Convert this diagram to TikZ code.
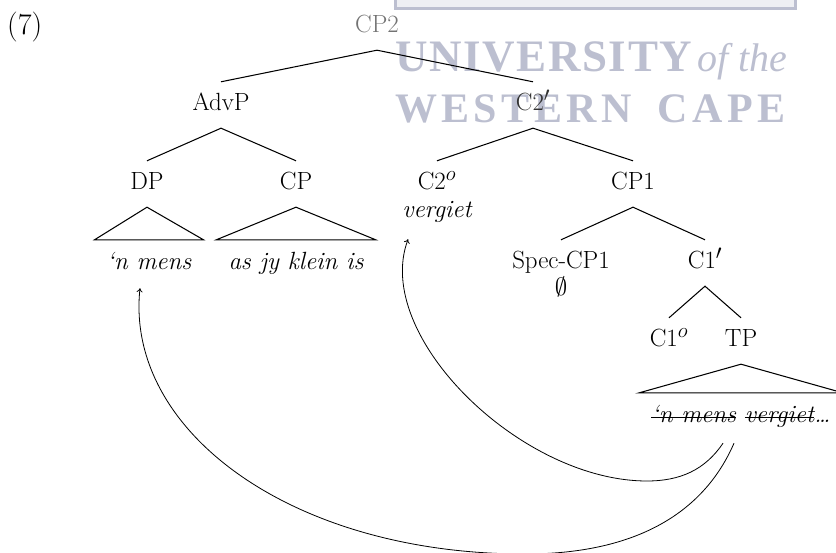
\documentclass[tikz,border=0pt]{standalone}
\usepackage{fontspec}
\usetikzlibrary{calc,arrows.meta}
\newfontfamily\crestfont{Liberation Serif}
\definecolor{crest}{RGB}{188,191,208}
% a word with a horizontal rule through it
\newcommand\struckword[1]{\setbox0=\hbox{#1}\rlap{\rule[0.5ex]{\wd0}{1pt}}\box0\relax}
\begin{document}
\begin{tikzpicture}[x=1pt,y=-1pt,
  treefont/.style={font=\fontsize{24.88}{29.86}\selectfont},
  lbl/.style={treefont, inner xsep=0pt, inner ysep=12pt,
    text height=17pt, text depth=5pt, anchor=base},
  sublbl/.style={lbl, inner ysep=2pt},
  ital/.style={lbl, font=\fontsize{24.88}{29.86}\selectfont\itshape},
  leaf/.style={ital, inner xsep=12pt, inner ysep=13pt},
  branch/.style={line width=1.05pt},
  move/.style={line width=0.8pt, -{To[length=4pt,width=6pt]}},
  crestword/.style={anchor=base west, inner sep=0pt, text=crest},
]
\useasboundingbox (0,0) rectangle (836,553);

% crest in the background
\draw[crest, line width=3pt, fill=crest!25] (395,-6) rectangle (795,9);
\node[crestword, font=\crestfont\fontsize{45}{45}\selectfont\bfseries] (crestuni) at (395,72)
  {\makebox[297pt][s]{U\hfill N\hfill I\hfill V\hfill E\hfill R\hfill S\hfill I\hfill T\hfill Y}};
\node[crestword, font=\crestfont\fontsize{40}{40}\selectfont\itshape] (crestof) at (697,72) {of the};
\node[crestword, font=\crestfont\fontsize{42}{42}\selectfont\bfseries] (crestwc) at (395,123)
  {\makebox[390pt][s]{W\hfill E\hfill S\hfill T\hfill E\hfill R\hfill N\hspace*{22pt}\hfill C\hfill A\hfill P\hfill E}};

% example number
\node[font=\fontsize{30}{36}\selectfont, anchor=base west, inner sep=0pt] (exno) at (7,34.5) {(7)};

% tree labels
\node[lbl, text=black!55] (cp2) at (377,33) {CP2};
\node[lbl] (advp) at (221,111) {AdvP};
\node[lbl, text=black!80] (c2bar) at (533,111) {C2$'$};
\node[lbl] (dp) at (147,190) {DP};
\node[lbl] (cp) at (296,190) {CP};
\node[lbl] (c2o) at (437,190) {C2$^o$};
\node[sublbl, font=\fontsize{24.88}{29.86}\selectfont\itshape] (verg) at (437,218) {vergiet};
\node[lbl] (cp1) at (633,190) {CP1};
\node[leaf] (nmens) at (149,270) {‘n mens};
\node[leaf] (asjy) at (296,270) {as jy klein is};
\node[sublbl] (spec) at (561,269) {Spec-CP1};
\node[sublbl] (empty) at (561,296) {$\emptyset$};
\node[lbl] (c1bar) at (705,269) {C1$'$};
\node[lbl] (c1o) at (669,347) {C1$^o$};
\node[lbl] (tp) at (741,347) {TP};
\node[leaf] (tpleaf) at (741,423) {\struckword{‘n mens} \struckword{vergiet}\ldots};

% branches
\draw[branch] (advp.north) -- (cp2.south) -- (c2bar.north);
\draw[branch] (dp.north) -- (advp.south) -- (cp.north);
\draw[branch] (c2o.north) -- (c2bar.south) -- (cp1.north);
\draw[branch] ($(spec.north)+(0,-10)$) -- (cp1.south) -- (c1bar.north);
\draw[branch] (c1o.north) -- (c1bar.south) -- (tp.north);

% triangles over phrases
\draw[branch] (dp.south) -- (nmens.north west) -- (nmens.north east) -- cycle;
\draw[branch] (cp.south) -- (asjy.north west) -- (asjy.north east) -- cycle;
\draw[branch] (tp.south) -- (tpleaf.north west) -- (tpleaf.north east) -- cycle;

% movement arrows
\coordinate (s1) at ($(tpleaf.south)+(-18,2)$);
\coordinate (s2) at ($(tpleaf.south)+(-7,2)$);
\coordinate (t1) at ($(verg.south west)+(6,14)$);
\coordinate (t2) at ($(nmens.south)+(-9,0)$);
\draw[move] (s1) .. controls (705,470) and (680,481) .. (647,481)
  .. controls (520,481) and (372,335) .. (t1);
\draw[move] (s2) .. controls (705,510) and (640,554) .. (525,554)
  .. controls (290,554) and (125,430) .. (t2);
\end{tikzpicture}
\end{document}
